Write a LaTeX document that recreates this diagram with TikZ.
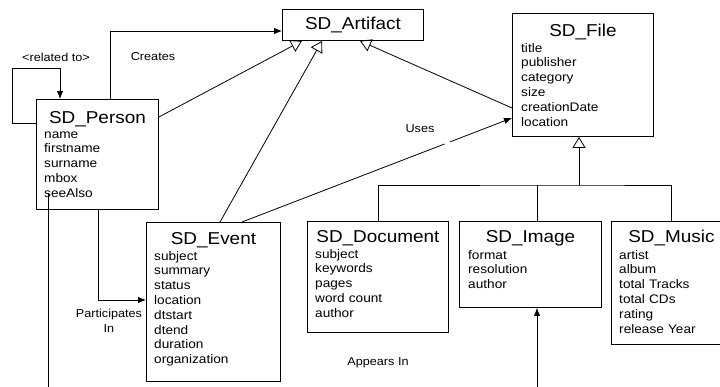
\documentclass[tikz,border=0pt]{standalone}
\usepackage{fontspec}
\setmainfont{Liberation Sans}[FakeStretch=1.1]
\usetikzlibrary{arrows.meta}

\tikzset{
  classbox/.style={draw, line width=0.9pt, inner sep=0pt, anchor=north west},
  classname/.style={font=\fontsize{17.2}{20}\selectfont, inner sep=0pt, anchor=base},
  attrs/.style={font=\fontsize{12.4}{14.8}\selectfont, inner sep=0pt, anchor=base west, text width=110pt, align=left},
  lbl/.style={font=\fontsize{11.5}{14.5}\selectfont, inner sep=0pt, align=center},
  assoc/.style={line width=0.8pt, -{Latex[length=8pt,width=6.5pt]}},
  inherit/.style={line width=0.8pt, -{Triangle[open,length=11pt,width=13pt]}},
}

\begin{document}
\begin{tikzpicture}[x=1pt,y=-1pt]
  \useasboundingbox (0,0) rectangle (720,386);
  \clip (0,0) rectangle (720,386);

  % classes
  \node[classbox, minimum width=141pt, minimum height=31pt, font=\fontsize{17.2}{20}\selectfont] (artifact) at (282,9) {SD\_Artifact};

  \node[classbox, minimum width=122pt, minimum height=110pt] (person) at (36,99) {};
  \node[classname] (persontitle) at ([yshift=-24pt]person.north) {SD\_Person};
  \node[attrs] (personattrs) at ([xshift=8pt,yshift=-39pt]person.north west) {name\\firstname\\surname\\mbox\\seeAlso};

  \node[classbox, minimum width=141pt, minimum height=123pt] (file) at (512,13) {};
  \node[classname] (filetitle) at ([yshift=-23pt]file.north) {SD\_File};
  \node[attrs] (fileattrs) at ([xshift=9pt,yshift=-39pt]file.north west) {title\\publisher\\category\\size\\creationDate\\location};

  \node[classbox, minimum width=134pt, minimum height=159pt] (event) at (146,222) {};
  \node[classname] (eventtitle) at ([yshift=-22pt]event.north) {SD\_Event};
  \node[attrs] (eventattrs) at ([xshift=8pt,yshift=-38pt]event.north west) {subject\\summary\\status\\location\\dtstart\\dtend\\duration\\organization};

  \node[classbox, minimum width=141pt, minimum height=111pt] (document) at (307,221) {};
  \node[classname] (doctitle) at ([yshift=-21pt]document.north) {SD\_Document};
  \node[attrs] (docattrs) at ([xshift=8pt,yshift=-37pt]document.north west) {subject\\keywords\\pages\\word count\\author};

  \node[classbox, minimum width=142pt, minimum height=86pt] (image) at (459,221) {};
  \node[classname] (imagetitle) at ([yshift=-21pt]image.north) {SD\_Image};
  \node[attrs] (imageattrs) at ([xshift=9pt,yshift=-38pt]image.north west) {format\\resolution\\author};

  \node[classbox, minimum width=120pt, minimum height=123pt] (music) at (611,221) {};
  \node[classname] (musictitle) at ([yshift=-21pt]music.north) {SD\_Music};
  \node[attrs] (musicattrs) at ([xshift=8pt,yshift=-38pt]music.north west) {artist\\album\\total Tracks\\total CDs\\rating\\release Year};

  % associations
  \draw[assoc] ([yshift=-24pt]person.north west) -| (12,68) -| ([xshift=24pt]person.north west);
  \node[lbl] (relatedlbl) at (56,57) {<related to>};

  \draw[assoc] ([xshift=74pt]person.north west) |- ([yshift=-22pt]artifact.north west);
  \node[lbl] (createslbl) at (153,57) {Creates};

  \draw[assoc] ([xshift=62pt]person.south west) |- ([yshift=-78pt]event.north west);
  \node[lbl] (partlbl) at (109,321) {Participates\\In};

  \draw[assoc, dash pattern=on 217pt off 6pt on 200pt] ([xshift=96pt]event.north west) -- ([yshift=-105pt]file.north west);
  \node[lbl] (useslbl) at (420,129) {Uses};

  \coordinate (seealso) at (48,193);
  \coordinate (bottomleft) at (48,392);
  \coordinate (bottomright) at (537,392);
  \draw[line width=0.8pt] (seealso) -- (bottomleft);
  \draw[assoc] (bottomright) -- (image.south -| bottomright);
  \node[lbl] (appearslbl) at (378,363) {Appears In};

  % generalizations
  \draw[inherit] ([yshift=-18pt]person.north east) -- ([xshift=20pt]artifact.south west);
  \draw[inherit] ([xshift=74pt]event.north west) -- ([xshift=40pt]artifact.south west);
  \draw[inherit] ([yshift=-95pt]file.north west) -- ([xshift=78pt]artifact.south west);

  \coordinate (busjoin) at (579,185);
  \draw[inherit] (busjoin) -- (file.south -| busjoin);
  \draw[line width=0.8pt] (document.north) |- (busjoin) -| (music.north);
  \draw[line width=0.8pt] ([xshift=78pt]image.north west) -- (busjoin -| bottomright);
\end{tikzpicture}
\end{document}
